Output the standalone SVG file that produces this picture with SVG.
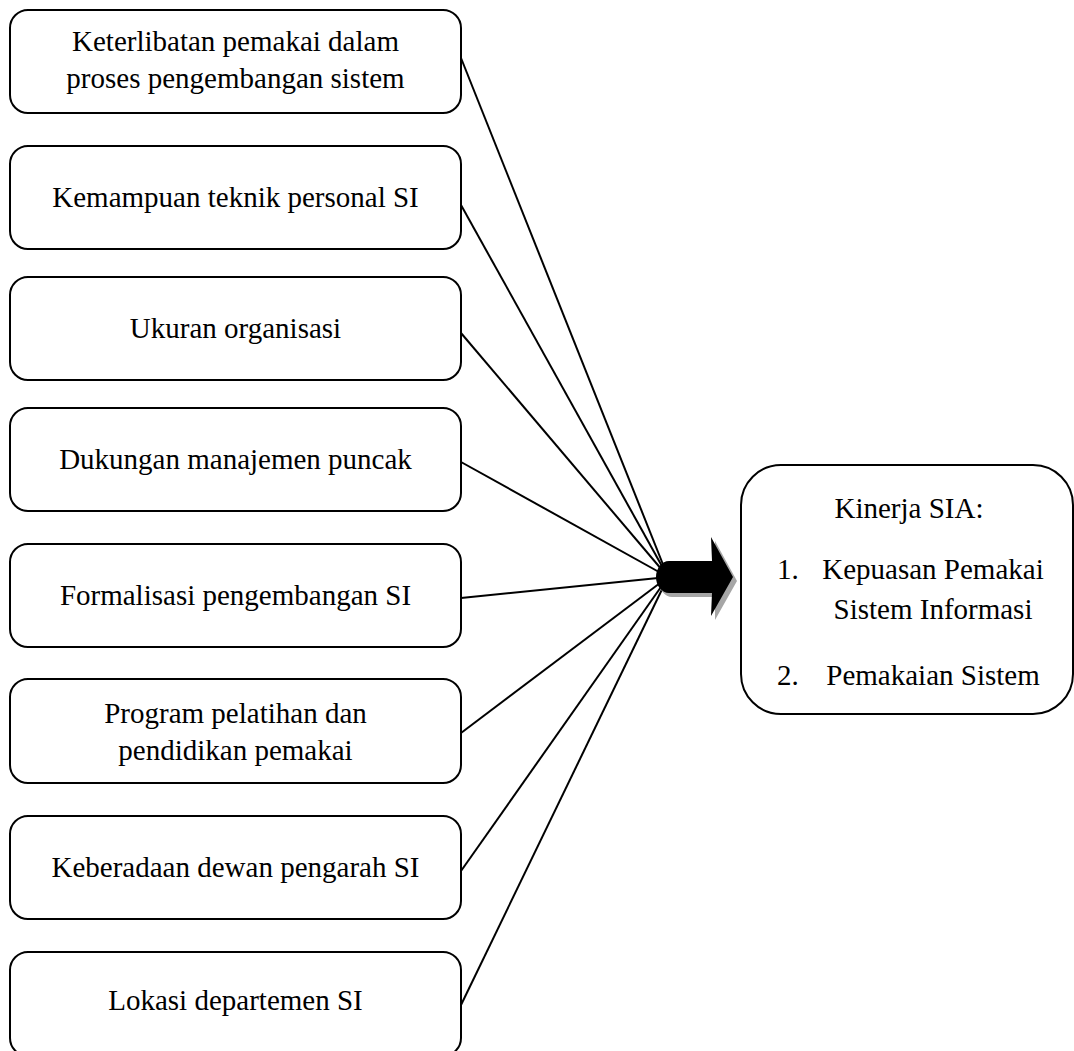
<svg xmlns="http://www.w3.org/2000/svg" width="1074" height="1051" viewBox="0 0 1074 1051">
<style>
  .box { fill: #ffffff; stroke: #000000; stroke-width: 2; }
  .lbl { font-family: "Liberation Serif", "Times New Roman", serif; font-size: 29px; fill: #000000; text-anchor: middle; }
  .lbl-start { font-family: "Liberation Serif", "Times New Roman", serif; font-size: 29px; fill: #000000; }
  .conn { stroke: #000000; stroke-width: 2; fill: none; }
</style>
<rect x="0" y="0" width="1074" height="1051" fill="#ffffff"/>
<g id="connectors">
  <line class="conn" x1="461" y1="58" x2="668" y2="577"/>
  <line class="conn" x1="461" y1="205" x2="668" y2="577"/>
  <line class="conn" x1="461" y1="333" x2="668" y2="577"/>
  <line class="conn" x1="461" y1="462" x2="668" y2="577"/>
  <line class="conn" x1="461" y1="598" x2="668" y2="577"/>
  <line class="conn" x1="461" y1="733" x2="668" y2="577"/>
  <line class="conn" x1="461" y1="871" x2="668" y2="577"/>
  <line class="conn" x1="461" y1="1005" x2="668" y2="577"/>
</g>
<g id="arrow">
  <path d="M 715 565 L 672 565 A 13 16 0 0 0 672 597 L 715 597 L 715 620 L 737 581 L 715 541 Z" fill="#a6a6a6"/>
  <path d="M 712 561 L 669 561 A 13 16 0 0 0 669 593 L 712 593 L 711 616 L 733 577 L 711 537 Z" fill="#000000"/>
</g>
<g id="node1">
  <rect class="box" x="10" y="10" width="451" height="103" rx="18" ry="18"/>
  <text class="lbl" x="235.5" y="51">Keterlibatan pemakai dalam</text>
  <text class="lbl" x="235.5" y="88">proses pengembangan sistem</text>
</g>
<g id="node2">
  <rect class="box" x="10" y="146" width="451" height="103" rx="18" ry="18"/>
  <text class="lbl" x="235.5" y="207">Kemampuan teknik personal SI</text>
</g>
<g id="node3">
  <rect class="box" x="10" y="277" width="451" height="103" rx="18" ry="18"/>
  <text class="lbl" x="235.5" y="338">Ukuran organisasi</text>
</g>
<g id="node4">
  <rect class="box" x="10" y="408" width="451" height="103" rx="18" ry="18"/>
  <text class="lbl" x="235.5" y="469">Dukungan manajemen puncak</text>
</g>
<g id="node5">
  <rect class="box" x="10" y="544" width="451" height="103" rx="18" ry="18"/>
  <text class="lbl" x="235.5" y="605">Formalisasi pengembangan SI</text>
</g>
<g id="node6">
  <rect class="box" x="10" y="679" width="451" height="104" rx="18" ry="18"/>
  <text class="lbl" x="235.5" y="723">Program pelatihan dan</text>
  <text class="lbl" x="235.5" y="760">pendidikan pemakai</text>
</g>
<g id="node7">
  <rect class="box" x="10" y="816" width="451" height="103" rx="18" ry="18"/>
  <text class="lbl" x="235.5" y="877">Keberadaan dewan pengarah SI</text>
</g>
<g id="node8">
  <rect class="box" x="10" y="952" width="451" height="104" rx="18" ry="18"/>
  <text class="lbl" x="235.5" y="1010">Lokasi departemen SI</text>
</g>
<g id="node9">
  <rect class="box" x="741" y="465" width="332" height="249" rx="40" ry="40"/>
  <text class="lbl" x="909" y="518">Kinerja SIA:</text>
  <text class="lbl-start" x="777" y="579">1.</text>
  <text class="lbl" x="933" y="579">Kepuasan Pemakai</text>
  <text class="lbl" x="933" y="619">Sistem Informasi</text>
  <text class="lbl-start" x="777" y="685">2.</text>
  <text class="lbl" x="933" y="685">Pemakaian Sistem</text>
</g>
</svg>
